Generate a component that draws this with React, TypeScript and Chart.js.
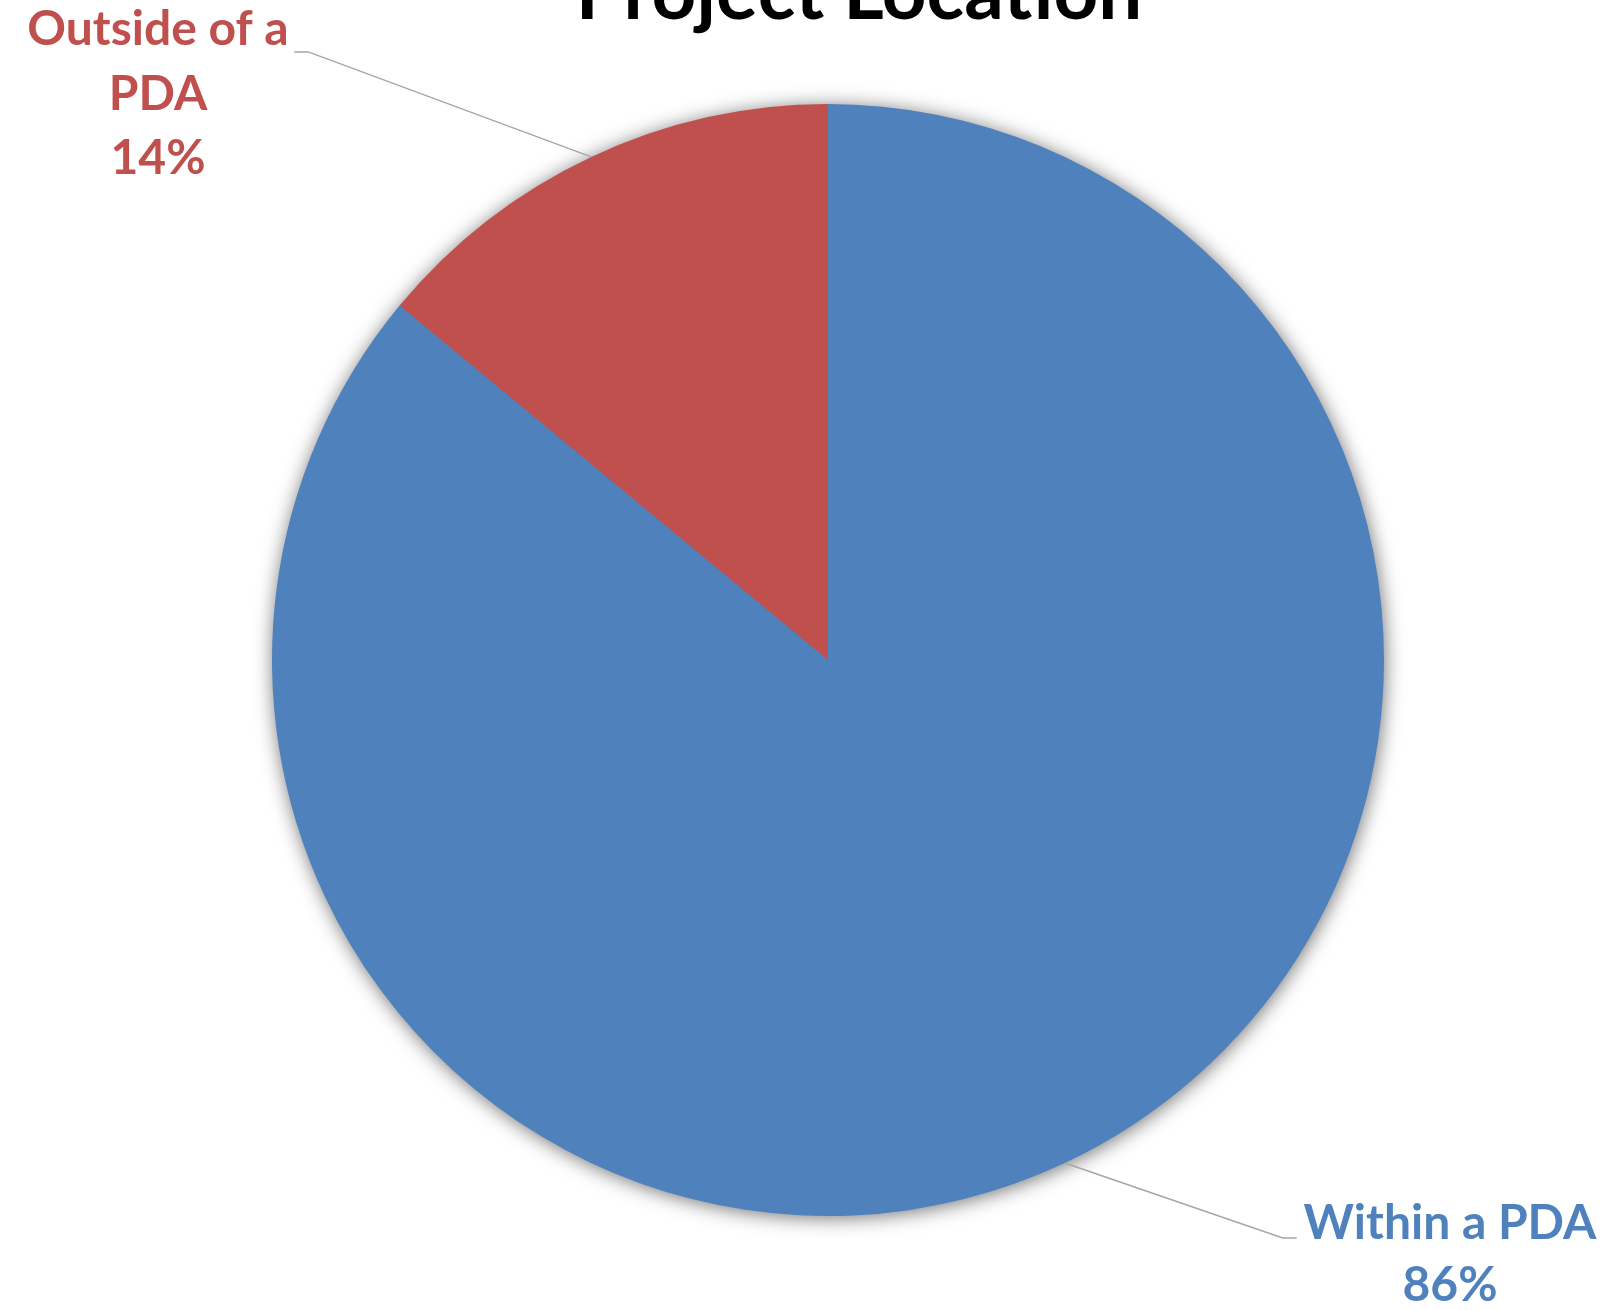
import React, { useEffect, useRef } from "react";
import { Chart, registerables } from "chart.js";

Chart.register(...registerables);

const titleText = "Project Location";
const categories = ["Within a PDA", "Outside of a PDA"];
const values = [86, 14];
const sliceColors = ["#4F81BD", "#C0504D"];
// label lines per slice (category text wrapped as in the reference) + percent
const labelLines = [["Within a PDA"], ["Outside of a", "PDA"]];

const FONT = "Lato, 'Open Sans', sans-serif";

const shadowPlugin = {
  id: "pieShadow",
  beforeDatasetsDraw(chart: any) {
    const meta = chart.getDatasetMeta(0);
    const arc = meta.data[0];
    if (!arc) return;
    const { x, y, outerRadius } = arc.getProps(["x", "y", "outerRadius"], true);
    const ctx = chart.ctx;
    ctx.save();
    ctx.shadowColor = "rgba(0,0,0,0.6)";
    ctx.shadowBlur = 20;
    ctx.shadowOffsetX = 1;
    ctx.shadowOffsetY = 2;
    ctx.fillStyle = sliceColors[0];
    ctx.beginPath();
    ctx.arc(x, y, outerRadius - 1, 0, Math.PI * 2);
    ctx.fill();
    ctx.restore();
  },
};

// layout of the outside labels: elbow point and text centre per slice
const labelLayout = [
  { elbowDx: 218, elbowDy: 75, tailDx: 14, textX: 1450, textY: 1224, lh: 62 },
  { elbowDx: -283, elbowDy: -105, tailDx: -14, textX: 158, textY: 30, lh: 64.5 },
];

const labelPlugin = {
  id: "outsideLabels",
  afterDatasetsDraw(chart: any) {
    const ctx = chart.ctx;
    const meta = chart.getDatasetMeta(0);
    const total = values.reduce((a, b) => a + b, 0);
    meta.data.forEach((arc: any, i: number) => {
      const { x, y, startAngle, endAngle, outerRadius } = arc.getProps(
        ["x", "y", "startAngle", "endAngle", "outerRadius"],
        true
      );
      const mid = (startAngle + endAngle) / 2;
      const ex = x + Math.cos(mid) * outerRadius;
      const ey = y + Math.sin(mid) * outerRadius;
      const L = labelLayout[i];
      const bx = ex + L.elbowDx;
      const by = ey + L.elbowDy;
      ctx.save();
      ctx.strokeStyle = "#A6A6A6";
      ctx.lineWidth = 1.5;
      ctx.beginPath();
      ctx.moveTo(ex, ey);
      ctx.lineTo(bx, by);
      ctx.lineTo(bx + L.tailDx, by);
      ctx.stroke();

      const pct = Math.round((values[i] / total) * 100) + "%";
      const lines = [...labelLines[i], pct];
      ctx.fillStyle = sliceColors[i];
      ctx.font = `bold 48px ${FONT}`;
      ctx.textAlign = "center";
      ctx.textBaseline = "middle";
      lines.forEach((t, k) => ctx.fillText(t, L.textX, L.textY + k * L.lh));
      ctx.restore();
    });
  },
};

const titlePlugin = {
  id: "cutTitle",
  afterDraw(chart: any) {
    const ctx = chart.ctx;
    ctx.save();
    ctx.fillStyle = "#000000";
    ctx.font = `bold 78px ${FONT}`;
    ctx.textAlign = "center";
    ctx.textBaseline = "alphabetic";
    ctx.fillText(titleText, 859, 19);
    ctx.restore();
  },
};

export default function App() {
  const ref = useRef<HTMLCanvasElement | null>(null);
  useEffect(() => {
    document.body.style.margin = "0";
    const canvas = ref.current;
    if (!canvas) return;
    const chart = new Chart(canvas, {
      type: "pie",
      data: {
        labels: categories,
        datasets: [
          {
            data: values,
            backgroundColor: sliceColors,
            borderWidth: 0,
          },
        ],
      },
      options: {
        animation: false,
        responsive: false,
        maintainAspectRatio: false,
        layout: { padding: { left: 272, right: 219, top: 104, bottom: 94 } },
        plugins: {
          legend: { display: false },
          tooltip: { enabled: false },
          title: { display: false },
        },
      },
      plugins: [shadowPlugin, labelPlugin, titlePlugin],
    });
    return () => chart.destroy();
  }, []);
  return (
    <div style={{ width: 1603, height: 1310, background: "#fff" }}>
      <canvas ref={ref} width={1603} height={1310} style={{ display: "block" }} />
    </div>
  );
}
